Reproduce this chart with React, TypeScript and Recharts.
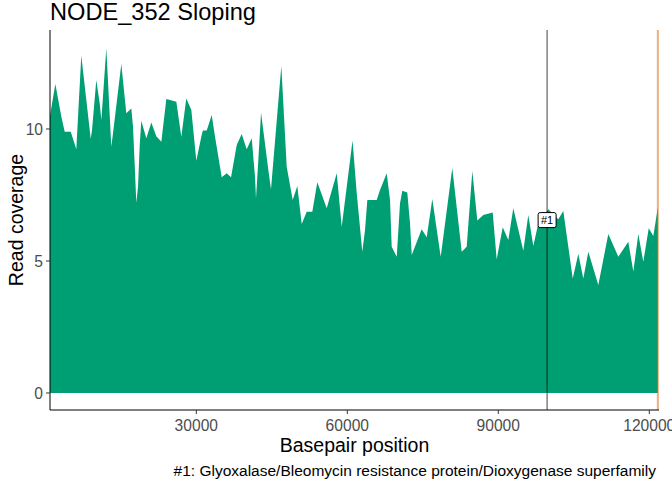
import React from "react";
import {
  ComposedChart,
  Area,
  XAxis,
  YAxis,
  ReferenceLine,
  ReferenceDot,
} from "recharts";

const positions = [
  930, 1990, 3180, 3850, 5050, 6160, 6360, 7150, 9020, 9280, 10130, 10810,
  11130, 12120, 13110, 13450, 15100, 16090, 17090, 17420, 17760, 18080, 18420,
  18760, 19070, 20070, 21060, 22050, 23050, 24040, 26030, 27020, 28010, 29010,
  30000, 30990, 31300, 32070, 33060, 33720, 35050, 36040, 36900, 38030, 39020,
  40010, 41010, 41660, 41860, 42320, 42860, 44310, 44840, 46890, 47960, 49150,
  50070, 50940, 51940, 53050, 54040, 55910, 57900, 58890, 61040, 61870, 62980,
  63520, 63980, 65840, 66500, 67830, 68490, 68820, 69820, 70470, 70930, 71920,
  72460, 72800, 74780, 75780, 76890, 78560, 80860, 82730, 83720, 84840, 85830,
  87020, 88890, 89680, 90880, 91990, 92980, 94970, 95960, 96960, 97950, 99940,
  101920, 102920, 104790, 105900, 106890, 107890, 109870, 111860, 113850,
  115830, 116830, 117820, 118810, 119890, 120800, 121700,
];

const coverage = [
  10.5, 11.7, 10.47, 9.9, 9.9, 9.23, 9.96, 12.77, 9.63, 9.96, 11.86, 10.97,
  10.34, 13.06, 9.33, 9.84, 12.46, 10.6, 10.78, 10.09, 8.64, 7.21, 7.81, 9.39,
  10.31, 9.65, 10.25, 9.73, 9.52, 11.14, 11.03, 9.71, 11.16, 10.72, 8.8, 9.71,
  9.94, 9.94, 10.53, 9.71, 8.17, 8.32, 8.17, 9.39, 9.81, 9.23, 9.65, 8.19,
  7.37, 8.83, 10.62, 8.45, 7.72, 12.39, 8.57, 7.31, 7.84, 6.4, 6.87, 6.87,
  7.98, 7.0, 8.32, 6.3, 9.56, 7.58, 5.35, 6.17, 7.31, 7.31, 7.69, 8.32, 7.31,
  5.54, 5.16, 7.18, 7.66, 7.59, 6.43, 5.23, 6.2, 5.9, 7.35, 5.16, 8.52, 5.35,
  5.54, 8.41, 6.53, 6.74, 6.84, 5.06, 6.28, 5.8, 7.0, 5.39, 6.74, 5.57, 6.43,
  6.96, 6.58, 6.89, 4.34, 5.27, 4.34, 5.35, 4.09, 6.02, 5.16, 5.73, 4.6, 6.02,
  4.97, 6.24, 5.95, 7.03,
];

const xTicks = [30000, 60000, 90000, 120000];
const yTicks = [0, 5, 10];

const title = "NODE_352 Sloping";
const xLabel = "Basepair position";
const yLabel = "Read coverage";
const geneLabels = ["#1"];
const genePositions = [99700];
const geneLabelY = [6.55];
const geneCaption =
  "#1: Glyoxalase/Bleomycin resistance protein/Dioxygenase superfamily";
const contigEnd = 121700;

const xDomain = [930, 121930];
const yDomain = [-0.644, 13.75];

const data = positions.map((p, i) => ({ pos: p, cov: coverage[i] }));

const FONT = "'Liberation Sans', Arial, sans-serif";

const GeneTag = (props: any) => {
  const { cx, cy, label } = props;
  if (cx == null || cy == null) return null;
  return (
    <g>
      <rect
        x={cx - 9}
        y={cy - 7.5}
        width={18}
        height={15}
        rx={2}
        ry={2}
        fill="#ffffff"
        stroke="#000000"
        strokeWidth={1}
      />
      <text
        x={cx}
        y={cy + 4}
        textAnchor="middle"
        fontSize={11}
        fontFamily={FONT}
        fill="#000000"
      >
        {label}
      </text>
    </g>
  );
};

export default function App() {
  return (
    <div
      style={{
        position: "absolute",
        left: 0,
        top: 0,
        width: 672,
        height: 480,
        background: "#ffffff",
        fontFamily: FONT,
      }}
    >
      <ComposedChart
        width={672}
        height={480}
        data={data}
        margin={{ top: 30, right: 13, bottom: 40, left: 0 }}
      >
        <XAxis
          dataKey="pos"
          type="number"
          domain={xDomain}
          ticks={xTicks}
          allowDataOverflow
          height={30}
          tickSize={4}
          tickMargin={6}
          axisLine={{ stroke: "#000000", strokeWidth: 1 }}
          tickLine={{ stroke: "#333333", strokeWidth: 1 }}
          tick={{ fill: "#4D4D4D", fontSize: 15.6, fontFamily: FONT }}
          interval={0}
        />
        <YAxis
          type="number"
          domain={yDomain}
          ticks={yTicks}
          allowDataOverflow
          width={50}
          tickSize={4}
          tickMargin={3}
          axisLine={{ stroke: "#000000", strokeWidth: 1 }}
          tickLine={{ stroke: "#333333", strokeWidth: 1 }}
          tick={{ fill: "#4D4D4D", fontSize: 15.6, fontFamily: FONT }}
          interval={0}
        />
        <Area
          type="linear"
          dataKey="cov"
          baseValue={0}
          stroke="none"
          fill="#009E73"
          fillOpacity={1}
          isAnimationActive={false}
          dot={false}
          activeDot={false}
        />
        {genePositions.map((g, i) => (
          <ReferenceLine
            key={"g" + i}
            x={g}
            stroke="#000000"
            strokeOpacity={0.5}
            strokeWidth={1.5}
          />
        ))}
        <ReferenceLine
          x={contigEnd}
          stroke="#D55E00"
          strokeOpacity={0.5}
          strokeWidth={2}
        />
        {genePositions.map((g, i) => (
          <ReferenceDot
            key={"t" + i}
            x={g}
            y={geneLabelY[i]}
            r={0}
            shape={(p: any) => <GeneTag {...p} label={geneLabels[i]} />}
          />
        ))}
      </ComposedChart>
      <svg
        width={672}
        height={480}
        style={{ position: "absolute", left: 0, top: 0, pointerEvents: "none" }}
      >
        <text x={50} y={19.5} fontSize={23.6} fontFamily={FONT} fill="#000000">
          {title}
        </text>
        <text
          x={354.5}
          y={452.3}
          fontSize={19.5}
          fontFamily={FONT}
          textAnchor="middle"
          fill="#000000"
        >
          {xLabel}
        </text>
        <text
          transform="translate(22.5,220) rotate(-90)"
          fontSize={19.5}
          fontFamily={FONT}
          textAnchor="middle"
          fill="#000000"
        >
          {yLabel}
        </text>
        <text
          x={656}
          y={476}
          fontSize={15.5}
          fontFamily={FONT}
          textAnchor="end"
          fill="#000000"
        >
          {geneCaption}
        </text>
      </svg>
    </div>
  );
}
